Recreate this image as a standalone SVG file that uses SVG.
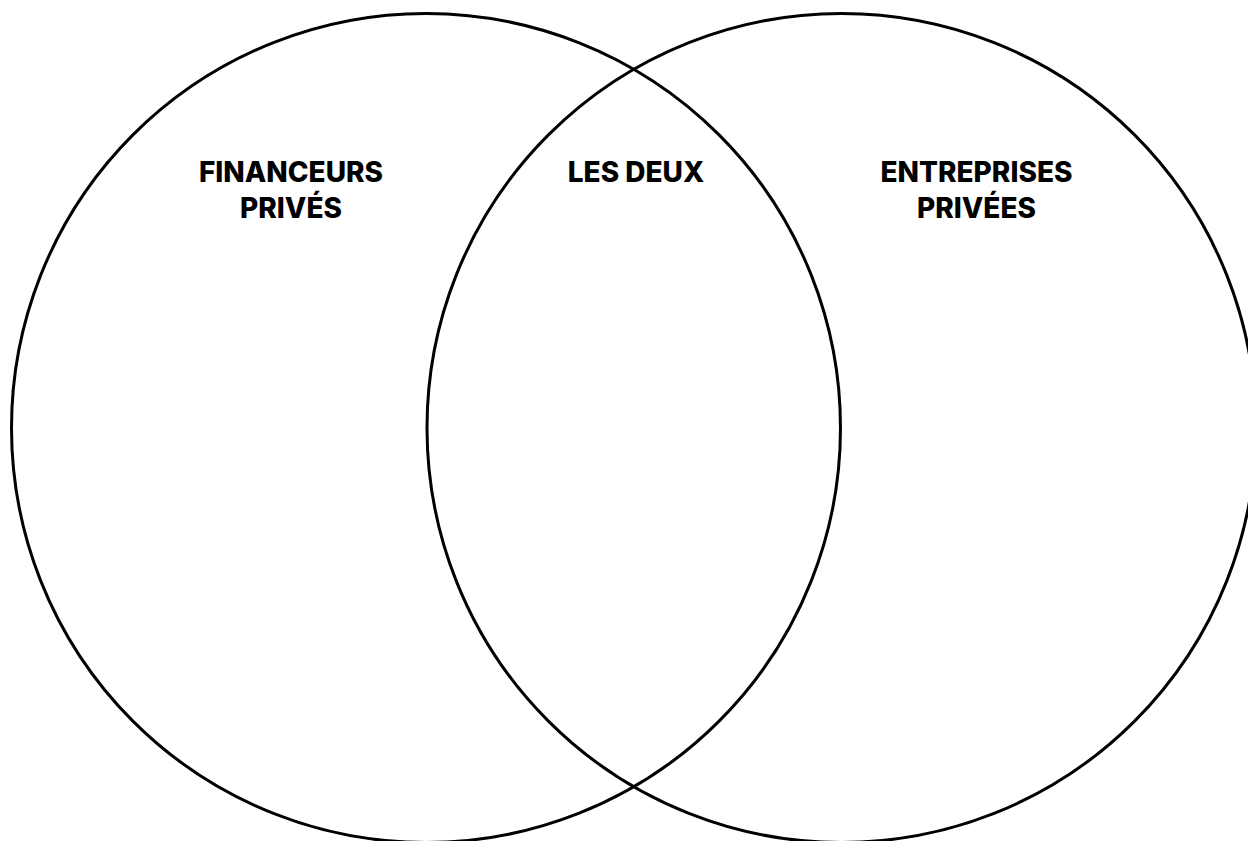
<svg xmlns="http://www.w3.org/2000/svg" width="1248" height="841" viewBox="0 0 1248 841">
  <style>
    .ring { fill: none; stroke: #000; stroke-width: 3; }
    .label { font-family: Inter, "Liberation Sans", sans-serif; font-weight: 800; font-size: 28px; fill: #000; text-anchor: middle; }
  </style>
  <rect width="1248" height="841" fill="#fff"/>
  <g id="set-financeurs">
    <circle class="ring" cx="426" cy="428" r="414.5"/>
    <text class="label" x="291" y="182">FINANCEURS</text>
    <text class="label" x="291" y="218">PRIVÉS</text>
  </g>
  <g id="set-entreprises">
    <circle class="ring" cx="841.5" cy="428" r="414.5"/>
    <text class="label" x="976.5" y="182">ENTREPRISES</text>
    <text class="label" x="976.5" y="218">PRIVÉES</text>
  </g>
  <g id="set-overlap">
    <text class="label" x="636" y="182">LES DEUX</text>
  </g>
  <g id="connectors"/>
</svg>
